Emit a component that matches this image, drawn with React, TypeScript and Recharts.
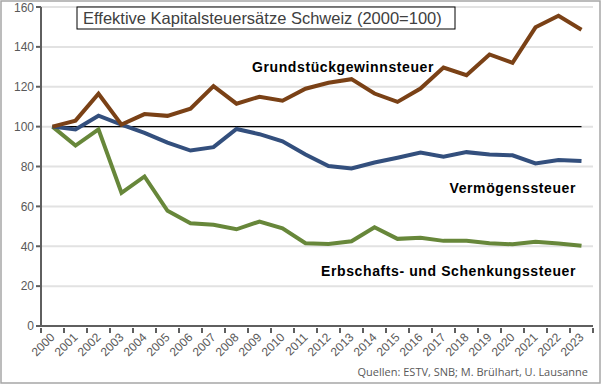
import { CartesianGrid, Line, LineChart, XAxis, YAxis } from "recharts";

const years = [
  "2000", "2001", "2002", "2003", "2004", "2005", "2006", "2007", "2008", "2009", "2010", "2011",
  "2012", "2013", "2014", "2015", "2016", "2017", "2018", "2019", "2020", "2021", "2022", "2023"
];

const grundstueck = [
  100, 103, 116.5, 101, 106.3, 105.4, 109, 120.3, 111.5, 115, 113, 119,
  122, 123.8, 116.6, 112.4, 119.1, 129.6, 125.8, 136.2, 132, 149.8, 155.6, 148.6
];

const vermoegen = [
  100, 98.6, 105.5, 101, 96.9, 92, 88, 89.7, 98.8, 96.2, 92.6, 86,
  80.2, 79, 82, 84.4, 87, 84.9, 87.2, 86, 85.6, 81.5, 83.3, 82.7
];

const erbschaft = [
  100, 90.5, 98.6, 66.8, 75, 57.8, 51.5, 50.8, 48.5, 52.4, 49, 41.5,
  41.1, 42.5, 49.5, 43.7, 44.2, 42.7, 42.7, 41.5, 41, 42.2, 41.4, 40.2
];

const baseline = years.map(() => 100);

const yTicks = [0, 20, 40, 60, 80, 100, 120, 140, 160];

const data = years.map((year, i) => ({
  year,
  grundstueck: grundstueck[i],
  vermoegen: vermoegen[i],
  erbschaft: erbschaft[i],
  baseline: baseline[i]
}));

const axisColor = "#5f5f5f";
const band = 23;

function YearTick(props: any) {
  const { x, y, payload, index } = props;
  const last = index === years.length - 1;
  const tx = x + 3;
  const ty = y + 4;
  return (
    <g>
      <line x1={x - band / 2} x2={x - band / 2} y1={y - 6} y2={y - 1} stroke={axisColor} strokeWidth={2} />
      {last && (
        <line x1={x + band / 2} x2={x + band / 2} y1={y - 6} y2={y - 1} stroke={axisColor} strokeWidth={2} />
      )}
      <text
        x={tx}
        y={ty}
        textAnchor="end"
        fill="#595959"
        fontSize={12}
        fontFamily="Liberation Sans, Arial, sans-serif"
        transform={`rotate(-45 ${tx} ${ty})`}
      >
        {payload.value}
      </text>
    </g>
  );
}

const labelStyle = {
  fontFamily: "Liberation Sans, Arial, sans-serif",
  fontWeight: 700,
  fontSize: 14,
  letterSpacing: 0.6,
  fill: "#000"
};

export default function App() {
  return (
    <div style={{ position: "absolute", left: 0, top: 0, width: 602, height: 385, background: "#fff" }}>
      <LineChart
        width={602}
        height={385}
        data={data}
        margin={{ top: 7, right: 9, bottom: 14, left: 0 }}
      >
        <rect x={1} y={1} width={599} height={382} fill="none" stroke="#a6a6a6" strokeWidth={1.5} />
        <CartesianGrid horizontal vertical={false} stroke="#e2e2e2" strokeWidth={2} />
        <XAxis
          dataKey="year"
          interval={0}
          height={45}
          padding={{ left: band / 2, right: band / 2 }}
          axisLine={{ stroke: axisColor, strokeWidth: 2 }}
          tickLine={false}
          tick={<YearTick />}
        />
        <YAxis
          domain={[0, 160]}
          ticks={yTicks}
          width={41}
          axisLine={{ stroke: axisColor, strokeWidth: 2 }}
          tickLine={{ stroke: axisColor, strokeWidth: 2 }}
          tickSize={5}
          tick={{ fill: "#595959", fontSize: 12, fontFamily: "Liberation Sans, Arial, sans-serif" }}
        />
        <Line dataKey="baseline" stroke="#000" strokeWidth={1.2} dot={false} isAnimationActive={false} />
        <Line dataKey="erbschaft" stroke="#67873a" strokeWidth={4} dot={false} isAnimationActive={false} />
        <Line dataKey="vermoegen" stroke="#334f7d" strokeWidth={4} dot={false} isAnimationActive={false} />
        <Line dataKey="grundstueck" stroke="#7a4116" strokeWidth={4} dot={false} isAnimationActive={false} />
        <rect x={77} y={7} width={378} height={22} fill="#fff" stroke="#000" strokeWidth={1} />
        <text x={83} y={24} fontSize={16.5} fill="#404040" fontFamily="Liberation Sans, Arial, sans-serif">
          Effektive Kapitalsteuersätze Schweiz (2000=100)
        </text>
        <text x={252} y={72} {...labelStyle}>Grundstückgewinnsteuer</text>
        <text x={576} y={193} textAnchor="end" {...labelStyle}>Vermögenssteuer</text>
        <text x={576} y={276} textAnchor="end" {...labelStyle}>Erbschafts- und Schenkungssteuer</text>
        <text
          x={588}
          y={376}
          textAnchor="end"
          fontSize={11}
          fill="#595959"
          fontFamily="Open Sans, Liberation Sans, sans-serif"
        >
          Quellen: ESTV, SNB; M. Brülhart, U. Lausanne
        </text>
      </LineChart>
    </div>
  );
}
